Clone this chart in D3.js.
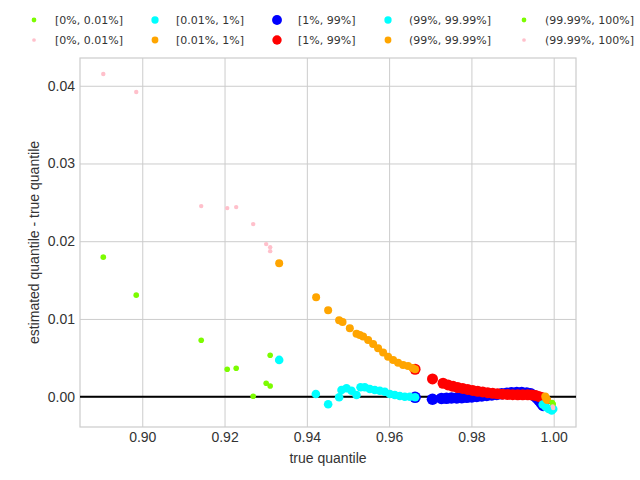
<!DOCTYPE html>
<html>
<head>
<meta charset="utf-8">
<script src="https://cdn.jsdelivr.net/npm/d3@7"></script>
<style>
    body { margin: 0; background: #fff; }
    text { font-family: "Liberation Sans", Arial, sans-serif; }
</style>
</head>
<body>
<div id="chart"></div>
<script>
// Quantile estimation error vs true quantile

const binLabels = ['[0%, 0.01%]', '[0.01%, 1%]', '[1%, 99%]', '(99%, 99.99%]', '(99.99%, 100%]'];
const rowAColors = ['#7cfc00', 'cyan', 'blue', 'cyan', '#7cfc00'];
const rowBColors = ['pink', 'orange', 'red', 'orange', 'pink'];

const xTicks = [0.90, 0.92, 0.94, 0.96, 0.98, 1.00];
const yTicks = [0.00, 0.01, 0.02, 0.03, 0.04];

// left tail, both colours share the same x
const tailLeftX = [0.89053, 0.89854, 0.91433, 0.92065, 0.92283, 0.92696, 0.93012, 0.93109, 0.93109];
const greenLeftY = [0.01795, 0.01306, 0.00726, 0.00353, 0.00366, 0.00005, 0.00173, 0.00533, 0.00138];
const pinkLeftY = [0.04152, 0.03920, 0.02452, 0.02426, 0.02439, 0.02220, 0.01963, 0.01924, 0.01872];

const cyanAX = [0.93328, 0.94219, 0.94518, 0.94785, 0.94843, 0.94965, 0.95086, 0.95208, 0.95305, 0.95409,
                0.95531, 0.95652, 0.95774, 0.95895, 0.96017, 0.96138, 0.96260, 0.96381, 0.96502, 0.96631];
const cyanAY = [0.00473, 0.00035, -0.00098, -0.00008, 0.00086, 0.00108, 0.00077, 0.00022, 0.00121, 0.00121,
                0.00099, 0.00086, 0.00077, 0.00064, 0.00035, 0.00022, 0.00009, 0.00000, 0.00000, -0.00008];

const orangeAX = [0.93328, 0.94226, 0.94518, 0.94785, 0.94868, 0.95045, 0.95208, 0.95288, 0.95368, 0.95490,
                  0.95611, 0.95732, 0.95854, 0.95975, 0.96097, 0.96218, 0.96340, 0.96461, 0.96568, 0.96631];
const orangeAY = [0.01718, 0.01280, 0.01113, 0.00984, 0.00962, 0.00881, 0.00811, 0.00795, 0.00773, 0.00730,
                  0.00679, 0.00623, 0.00567, 0.00515, 0.00473, 0.00438, 0.00408, 0.00395, 0.00370, 0.00353];

const blueX = [0.96631, 0.97054, 0.97272, 0.97394, 0.97515, 0.97644, 0.97766, 0.97887, 0.98008, 0.98130,
               0.98251, 0.98373, 0.98494, 0.98616, 0.98737, 0.98859, 0.98980, 0.99102, 0.99223, 0.99345,
               0.99442, 0.99515, 0.99588, 0.99649, 0.99697, 0.99745];
const blueY = [-0.00008, -0.00033, -0.00023, -0.00021, -0.00017, -0.00017, -0.00013, -0.00008, -0.00004, 0.00003,
               0.00009, 0.00015, 0.00022, 0.00028, 0.00037, 0.00045, 0.00050, 0.00052, 0.00052, 0.00048,
               0.00037, 0.00015, -0.00017, -0.00049, -0.00081, -0.00113];

const redX = [0.96631, 0.97054, 0.97311, 0.97433, 0.97554, 0.97668, 0.97790, 0.97911, 0.98033, 0.98154,
              0.98276, 0.98397, 0.98518, 0.98640, 0.98761, 0.98883, 0.99004, 0.99126, 0.99247, 0.99369,
              0.99466, 0.99563, 0.99636, 0.99709, 0.99757, 0.99794];
const redY = [0.00353, 0.00228, 0.00173, 0.00151, 0.00134, 0.00118, 0.00106, 0.00093, 0.00080, 0.00070,
              0.00061, 0.00052, 0.00044, 0.00037, 0.00032, 0.00028, 0.00026, 0.00024, 0.00024, 0.00024,
              0.00022, 0.00015, 0.00003, -0.00010, -0.00030, -0.00049];

// right tail
const cyanBX = [0.99733, 0.99806, 0.99879, 0.99952, 0.99988];
const cyanBY = [-0.00100, -0.00133, -0.00158, -0.00178, -0.00158];
const orangeBX = [0.99794, 0.99818, 0.99842];
const orangeBY = [0.00003, -0.00023, -0.00043];
const greenBX = [0.99964, 0.99988];
const greenBY = [-0.00075, -0.00094];
const pinkBX = [0.99976, 0.99988];
const pinkBY = [-0.00126, -0.00146];

// marker radius per colour
const radius = { 'blue': 5.8, 'red': 5.5, 'cyan': 4.3, 'orange': 4.0, '#7cfc00': 2.8, 'pink': 2.2 };

const zip = (xs, ys) => xs.map((x, i) => ({ x: x, y: ys[i] }));

// drawing order (later on top)
const series = [
    { color: 'blue', points: zip(blueX, blueY) },
    { color: 'red', points: zip(redX, redY) },
    { color: 'cyan', points: zip(cyanAX, cyanAY) },
    { color: 'cyan', points: zip(cyanBX, cyanBY) },
    { color: 'orange', points: zip(orangeAX, orangeAY) },
    { color: 'orange', points: zip(orangeBX, orangeBY) },
    { color: '#7cfc00', points: zip(tailLeftX, greenLeftY) },
    { color: '#7cfc00', points: zip(greenBX, greenBY) },
    { color: 'pink', points: zip(tailLeftX, pinkLeftY) },
    { color: 'pink', points: zip(pinkBX, pinkBY) }
];

const margin = { top: 58, right: 64, bottom: 53, left: 80 };
const width = 640 - margin.left - margin.right;
const height = 480 - margin.top - margin.bottom;

const svg = d3.select('#chart').append('svg')
    .attr('width', 640)
    .attr('height', 480)
    .style('background', '#fff');

const g = svg.append('g')
    .attr('transform', `translate(${margin.left},${margin.top})`);

const xScale = d3.scaleLinear().domain([0.88487, 1.00542]).range([0, width]);
const yScale = d3.scaleLinear().domain([-0.0039, 0.04357]).range([height, 0]);

// grid + tick labels
const xAxis = g.append('g')
    .attr('transform', `translate(0,${height})`)
    .call(d3.axisBottom(xScale).tickValues(xTicks).tickFormat(d3.format('.2f'))
        .tickSizeInner(-height).tickSizeOuter(0).tickPadding(5));
xAxis.select('.domain').remove();
xAxis.selectAll('line').attr('stroke', '#cccccc').attr('stroke-width', 1);
xAxis.selectAll('text').attr('fill', '#333').style('font-size', '14px');

const yAxis = g.append('g')
    .call(d3.axisLeft(yScale).tickValues(yTicks).tickFormat(d3.format('.2f'))
        .tickSizeInner(-width).tickSizeOuter(0).tickPadding(5));
yAxis.select('.domain').remove();
yAxis.selectAll('line').attr('stroke', '#cccccc').attr('stroke-width', 1);
yAxis.selectAll('text').attr('fill', '#333').style('font-size', '14px');

// frame
g.append('rect')
    .attr('width', width)
    .attr('height', height)
    .attr('fill', 'none')
    .attr('stroke', '#cccccc')
    .attr('stroke-width', 1.2);

// zero line
g.append('line')
    .attr('x1', 0)
    .attr('x2', width)
    .attr('y1', yScale(0))
    .attr('y2', yScale(0))
    .attr('stroke', '#000')
    .attr('stroke-width', 2);

// points
svg.append('clipPath').attr('id', 'plot-clip')
    .append('rect').attr('width', width).attr('height', height);

const pts = g.append('g').attr('clip-path', 'url(#plot-clip)');
series.forEach(s => {
    pts.selectAll(null)
        .data(s.points)
        .enter()
        .append('circle')
        .attr('cx', d => xScale(d.x))
        .attr('cy', d => yScale(d.y))
        .attr('r', radius[s.color])
        .attr('fill', s.color);
});

// axis labels
g.append('text')
    .attr('x', width / 2)
    .attr('y', height + 36)
    .attr('text-anchor', 'middle')
    .attr('fill', '#333')
    .style('font-size', '14px')
    .text('true quantile');

g.append('text')
    .attr('transform', 'rotate(-90)')
    .attr('x', -height / 2)
    .attr('y', -41)
    .attr('text-anchor', 'middle')
    .attr('fill', '#333')
    .style('font-size', '14px')
    .text('estimated quantile - true quantile');

// legend, two rows of five
const legendCols = [34, 155, 277, 388, 524];
const legendRows = [
    { y: 20, colors: rowAColors },
    { y: 40, colors: rowBColors }
];
const legend = svg.append('g');
legendRows.forEach(row => {
    binLabels.forEach((label, i) => {
        legend.append('circle')
            .attr('cx', legendCols[i])
            .attr('cy', row.y)
            .attr('r', radius[row.colors[i]] * 0.85)
            .attr('fill', row.colors[i]);
        legend.append('text')
            .attr('x', legendCols[i] + 21)
            .attr('y', row.y)
            .attr('dy', '0.35em')
            .attr('fill', '#333')
            .style('font-family', '"DejaVu Sans", sans-serif')
            .style('font-size', '11px')
            .text(label);
    });
});
</script>
</body>
</html>
